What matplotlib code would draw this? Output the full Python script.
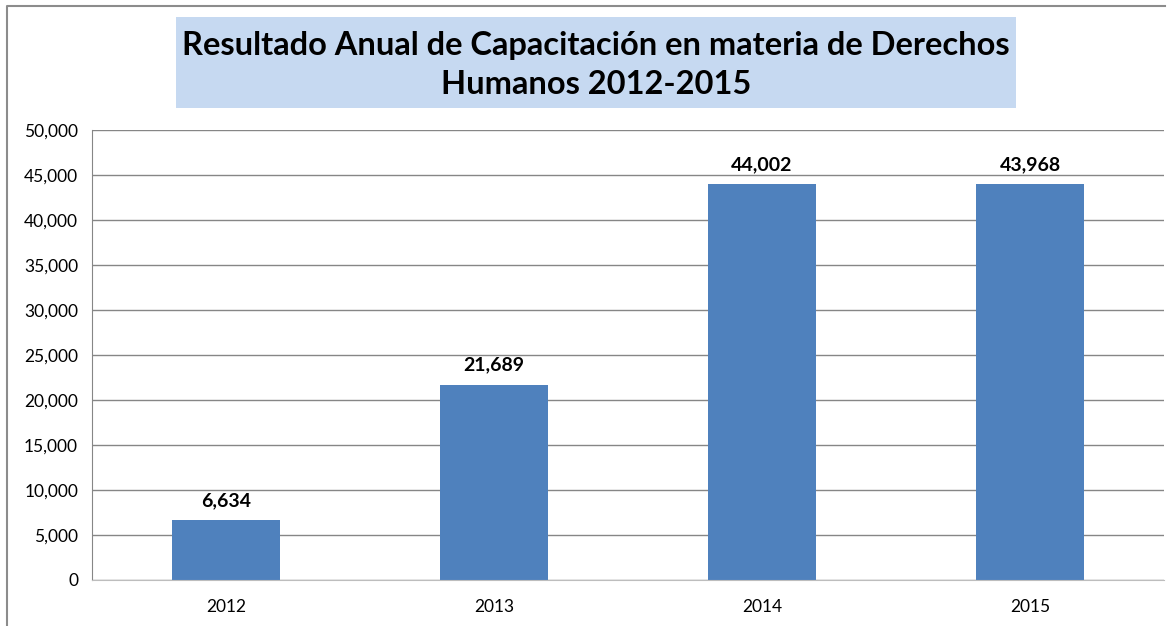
import matplotlib.pyplot as plt
from matplotlib.patches import Rectangle
from matplotlib.lines import Line2D
from matplotlib.ticker import FuncFormatter

# datos
anios = ['2012', '2013', '2014', '2015']
capacitados = [6634, 21689, 44002, 43968]
yticks = [0, 5000, 10000, 15000, 20000, 25000, 30000, 35000, 40000, 45000, 50000]

plt.rcParams['font.family'] = ['Lato', 'DejaVu Sans']

fig = plt.figure(figsize=(11.75, 6.26), dpi=100)
W, H = 1175, 626

# marco del grafico (solo arriba e izquierda se ven)
fig.add_artist(Line2D([7 / W, 7 / W, 1165 / W], [0, 1 - 6 / H, 1 - 6 / H],
                      transform=fig.transFigure, color='#8c8c8c', linewidth=1.5))

# caja del titulo
fig.add_artist(Rectangle((176 / W, 1 - 108 / H), (1016 - 176) / W, 91 / H,
                         transform=fig.transFigure, facecolor='#c6d9f1',
                         edgecolor='none'))
fig.text(596 / W, 1 - 65 / H,
         'Resultado Anual de Capacitación en materia de Derechos\nHumanos 2012-2015',
         ha='center', va='center', fontsize=23.5, fontweight='bold',
         linespacing=1.45)

ax = fig.add_axes([92 / W, 1 - 580 / H, (1164 - 92) / W, (580 - 130) / H])
x = range(len(anios))
ax.bar(x, capacitados, width=0.4, color='#4f81bd')
ax.set_xlim(-0.5, len(anios) - 0.5)
ax.set_ylim(0, 50000)
ax.set_yticks(yticks)
ax.yaxis.set_major_formatter(FuncFormatter(lambda v, p: f'{int(v):,}'))
ax.set_xticks(list(x))
ax.set_xticklabels(anios)
ax.grid(axis='y', color='#868686', linewidth=1)
ax.set_axisbelow(True)
ax.tick_params(length=0, labelsize=12.5, pad=10)
ax.tick_params(axis='x', pad=14)
for s in ['top', 'right']:
    ax.spines[s].set_visible(False)
ax.spines['left'].set_color('#868686')
ax.spines['bottom'].set_color('#bdbdbd')

for xi, v in zip(x, capacitados):
    ax.annotate(f'{v:,}', (xi, v), xytext=(0, 8), textcoords='offset points',
                ha='center', va='bottom', fontsize=14, fontweight='bold')

plt.savefig('out.png', dpi=100)
